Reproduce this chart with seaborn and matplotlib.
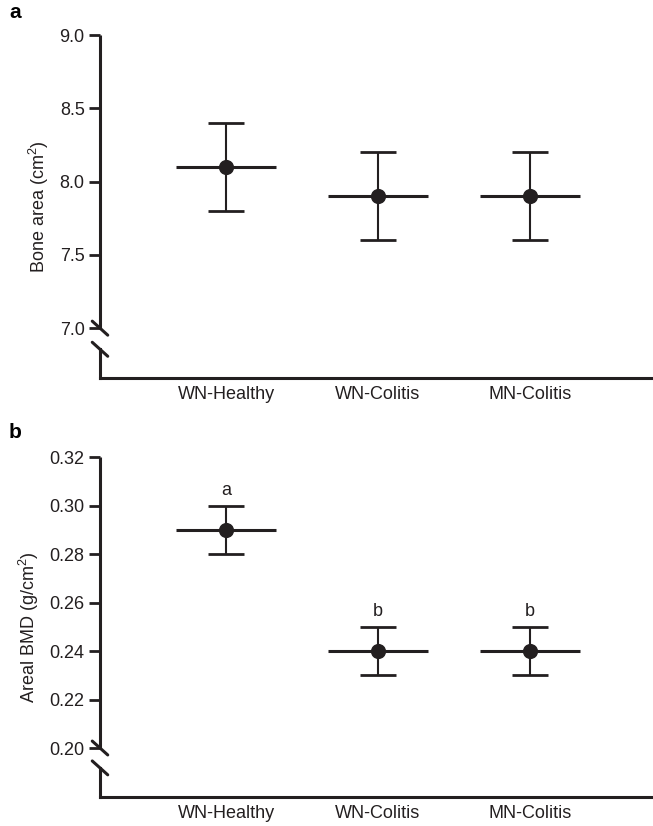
import matplotlib
matplotlib.use("Agg")
import matplotlib.pyplot as plt
import seaborn as sns
import numpy as np
import pandas as pd

# data
groups = ["WN-Healthy", "WN-Colitis", "MN-Colitis"]
area_mean = [8.1, 7.9, 7.9]
area_err = [0.3, 0.3, 0.3]
bmd_mean = [0.29, 0.24, 0.24]
bmd_err = [0.01, 0.01, 0.01]
bmd_letters = ["a", "b", "b"]

sns.set_style("ticks")
plt.rcParams["font.family"] = ["Liberation Sans", "DejaVu Sans"]
plt.rcParams["mathtext.default"] = "regular"

ink = "#231f20"
fs = 13
fig = plt.figure(figsize=(6.53, 8.26), dpi=100)
ax_a = fig.add_axes([100 / 653, 1 - 378 / 826, 1 - 100 / 653, (378 - 35) / 826])
ax_b = fig.add_axes([100 / 653, 1 - 797 / 826, 1 - 100 / 653, (797 - 457) / 826])


def draw_panel(ax, means, errs, ylim, yticks, fmt, ylabel, brk):
    df = pd.DataFrame({"x": np.arange(len(groups)), "mean": means, "err": errs})
    # mean bar (wide horizontal line)
    ax.hlines(df["mean"], df["x"] - 0.33, df["x"] + 0.33, color=ink, lw=2.2, zorder=2)
    # error bars
    ax.errorbar(df["x"], df["mean"], yerr=df["err"], fmt="none", ecolor=ink,
                elinewidth=1.5, capsize=13, capthick=2.0, zorder=2)
    sns.scatterplot(data=df, x="x", y="mean", ax=ax, color=ink, s=120,
                    edgecolor=ink, linewidth=0, zorder=3, legend=False)
    ax.set_xlim(-0.83, 2.81)
    ax.set_ylim(*ylim)
    ax.set_xticks(df["x"])
    ax.set_xticklabels(groups, fontsize=fs)
    ax.set_yticks(yticks)
    ax.set_yticklabels([fmt.format(t) for t in yticks], fontsize=fs)
    ax.tick_params(axis="x", length=0, pad=6, colors=ink)
    ax.tick_params(axis="y", length=8, width=2, pad=3, colors=ink)
    ax.set_xlabel("")
    ax.set_ylabel(ylabel, fontsize=fs, color=ink, labelpad=6)
    sns.despine(ax=ax)
    ax.spines["left"].set_visible(False)
    ax.spines["bottom"].set_linewidth(2.2)
    ax.spines["bottom"].set_color(ink)
    # broken left axis drawn by hand
    tr = ax.get_yaxis_transform()
    lo, hi = brk
    ax.plot([0, 0], [yticks[-1], hi], transform=tr, color=ink, lw=2.2,
            clip_on=False, solid_capstyle="butt")
    ax.plot([0, 0], [lo, ylim[0]], transform=tr, color=ink, lw=2.2,
            clip_on=False, solid_capstyle="projecting")
    span = ylim[1] - ylim[0]
    for yb in (hi, lo):
        dy = span * 7 / 343
        ax.plot([-0.014, 0.014], [yb + dy, yb - dy], transform=tr, color=ink,
                lw=2.2, clip_on=False)


draw_panel(ax_a, area_mean, area_err, (6.66, 9.0), [7.0, 7.5, 8.0, 8.5, 9.0],
           "{:.1f}", "Bone area (cm$^2$)", (6.856, 7.0))
draw_panel(ax_b, bmd_mean, bmd_err, (0.1798, 0.32), [0.20, 0.22, 0.24, 0.26, 0.28, 0.30, 0.32],
           "{:.2f}", "Areal BMD (g/cm$^2$)", (0.1918, 0.20))

for i, lab in enumerate(bmd_letters):
    ax_b.annotate(lab, (i, bmd_mean[i] + bmd_err[i]), xytext=(0, 5),
                  textcoords="offset points", ha="center", va="bottom",
                  fontsize=fs, color=ink)

fig.text(9 / 653, 1 - 13 / 826, "a", fontsize=15, fontweight="bold", va="center", color="black")
fig.text(9 / 653, 1 - 433 / 826, "b", fontsize=15, fontweight="bold", va="center", color="black")

fig.savefig("out.png", dpi=100)
